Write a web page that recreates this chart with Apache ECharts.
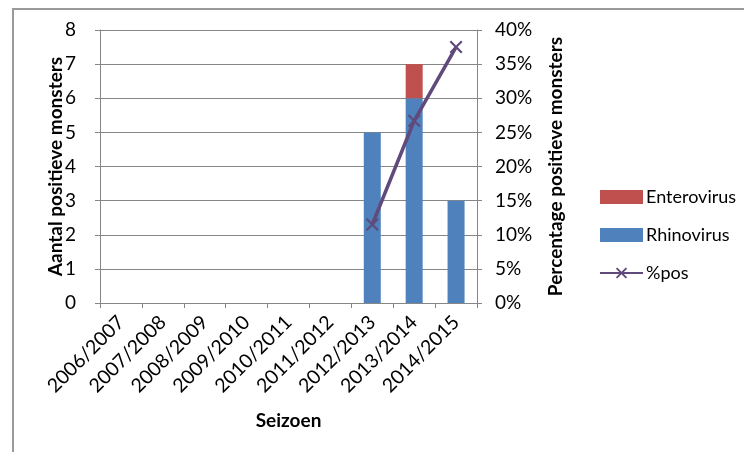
<!DOCTYPE html>
<html>
<head>
<meta charset="utf-8">
<script src="https://cdn.jsdelivr.net/npm/echarts@6/dist/echarts.min.js"></script>
<style>html,body{margin:0;padding:0;background:#fff}#c{width:744px;height:452px}</style>
</head>
<body>
<div id="c"></div>
<script>
var categories = ['2006/2007','2007/2008','2008/2009','2009/2010','2010/2011','2011/2012','2012/2013','2013/2014','2014/2015'];
var rhinovirus = [0,0,0,0,0,0,5,6,3];
var enterovirus = [0,0,0,0,0,0,0,1,0];
var pctPos = [null,null,null,null,null,null,11.5,26.7,37.5];
var leftTicks = {min:0, max:8, interval:1};
var rightTicks = {min:0, max:40, interval:5};

var FONT = 'Lato';
var AX = '#868686';
var xPath = 'path://M0,1.2L1.2,0L5,3.8L8.8,0L10,1.2L6.2,5L10,8.8L8.8,10L5,6.2L1.2,10L0,8.8L3.8,5Z';

var chart = echarts.init(document.getElementById('c'), null, {renderer:'canvas'});
chart.setOption({
  animation:false,
  graphic:[{type:'rect', shape:{x:13, y:9, width:900, height:900}, style:{fill:'none', stroke:'#9a9a9a', lineWidth:2}, silent:true}],
  grid:{left:100, right:267, top:30, bottom:149, containLabel:false},
  legend:{
    orient:'vertical', left:599, top:188, padding:0,
    itemWidth:43, itemHeight:14, itemGap:20,
    textStyle:{fontFamily:FONT, fontSize:18, color:'#000', padding:[0,0,0,-2]},
    data:[
      {name:'Enterovirus', icon:'rect'},
      {name:'Rhinovirus', icon:'rect'},
      {name:'%pos'}
    ]
  },
  xAxis:{
    type:'category', data:categories, boundaryGap:true,
    axisLine:{lineStyle:{color:AX, width:1}},
    axisTick:{show:true, length:5, lineStyle:{color:AX}},
    axisLabel:{rotate:45, fontFamily:FONT, fontSize:19.5, color:'#000', margin:16, interval:0},
    name:'Seizoen', nameLocation:'middle', nameGap:108, nameMoveOverlap:false,
    nameTextStyle:{fontFamily:FONT, fontSize:19, fontWeight:'bold', color:'#000'}
  },
  yAxis:[{
    type:'value', min:leftTicks.min, max:leftTicks.max, interval:leftTicks.interval, position:'left',
    axisLine:{show:true, lineStyle:{color:AX}},
    axisTick:{show:true, length:5, lineStyle:{color:AX}},
    splitLine:{show:true, lineStyle:{color:AX, width:1}},
    axisLabel:{fontFamily:FONT, fontSize:19, color:'#000', margin:24},
    name:'Aantal positieve monsters', nameLocation:'middle', nameGap:35, nameRotate:90, nameMoveOverlap:false,
    nameTextStyle:{fontFamily:FONT, fontSize:19, fontWeight:'bold', color:'#000'}
  },{
    type:'value', min:rightTicks.min, max:rightTicks.max, interval:rightTicks.interval, position:'right',
    axisLine:{show:true, lineStyle:{color:AX}},
    axisTick:{show:true, length:5, lineStyle:{color:AX}},
    splitLine:{show:false},
    axisLabel:{fontFamily:FONT, fontSize:19, color:'#000', margin:18, formatter:'{value}%'},
    name:'Percentage positieve monsters', nameLocation:'middle', nameGap:69, nameRotate:90, nameMoveOverlap:false,
    nameTextStyle:{fontFamily:FONT, fontSize:19, fontWeight:'bold', color:'#000'}
  }],
  series:[
    {name:'Rhinovirus', type:'bar', stack:'s', data:rhinovirus, barWidth:17, itemStyle:{color:'#4f81bd'}, yAxisIndex:0},
    {name:'Enterovirus', type:'bar', stack:'s', data:enterovirus, barWidth:17, itemStyle:{color:'#c0504d'}, yAxisIndex:0},
    {name:'%pos', type:'line', yAxisIndex:1, data:pctPos, connectNulls:false,
     symbol:xPath, symbolSize:13, showSymbol:true,
     lineStyle:{color:'#604a7b', width:3.5}, itemStyle:{color:'#604a7b'}}
  ]
});
</script>
</body>
</html>
